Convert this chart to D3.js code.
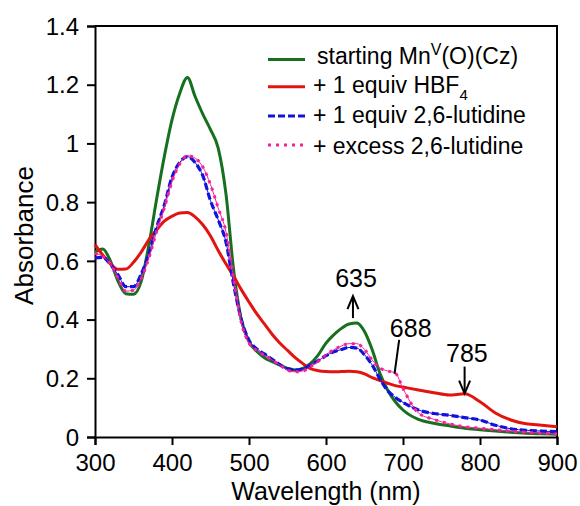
<!DOCTYPE html>
<html>
<head>
<meta charset="utf-8">
<script src="https://cdn.jsdelivr.net/npm/d3@7"></script>
<style>
  body { margin: 0; background: #fff; }
  text { font-family: "Liberation Sans", Arial, Helvetica, sans-serif; fill: #000; }
</style>
</head>
<body>
<div id="my_dataviz"></div>
<script>
// wavelength grid (nm) shared by all spectra
var wavelength = [300,310,320,330,340,350,360,370,380,390,400,410,420,430,440,450,460,470,480,490,
                  500,510,520,530,540,550,560,570,580,590,600,610,620,630,640,650,660,670,680,690,
                  700,720,740,760,780,800,820,840,860,880,900];

var starting = [0.630,0.640,0.600,0.530,0.488,0.486,0.530,0.655,0.810,0.955,1.080,1.170,1.225,1.160,1.100,1.047,0.984,0.830,0.570,0.400,
                0.325,0.292,0.270,0.257,0.245,0.234,0.228,0.234,0.251,0.280,0.320,0.348,0.370,0.385,0.388,0.359,0.297,0.217,0.160,0.120,
                0.092,0.060,0.047,0.038,0.030,0.025,0.020,0.016,0.013,0.011,0.009];

var hbf4 = [0.655,0.620,0.590,0.571,0.572,0.595,0.630,0.672,0.705,0.735,0.752,0.763,0.765,0.750,0.723,0.685,0.635,0.590,0.548,0.502,
            0.460,0.420,0.385,0.350,0.320,0.295,0.270,0.250,0.233,0.226,0.223,0.222,0.223,0.224,0.222,0.215,0.202,0.192,0.183,0.175,
            0.170,0.160,0.151,0.143,0.147,0.120,0.082,0.058,0.045,0.040,0.035];

var lutidine1 = [0.610,0.612,0.588,0.552,0.512,0.512,0.555,0.625,0.715,0.790,0.885,0.935,0.955,0.935,0.890,0.805,0.740,0.665,0.520,0.400,
                 0.330,0.300,0.283,0.265,0.247,0.232,0.228,0.232,0.245,0.260,0.277,0.290,0.298,0.305,0.303,0.280,0.245,0.198,0.158,0.135,
                 0.118,0.092,0.080,0.074,0.066,0.058,0.040,0.028,0.023,0.020,0.018];

var excess = [0.626,0.615,0.590,0.540,0.497,0.500,0.540,0.610,0.700,0.780,0.870,0.930,0.958,0.950,0.920,0.860,0.780,0.700,0.540,0.390,
              0.320,0.295,0.278,0.262,0.245,0.228,0.222,0.225,0.240,0.258,0.280,0.297,0.310,0.318,0.318,0.298,0.262,0.235,0.225,0.218,
              0.165,0.082,0.060,0.045,0.035,0.030,0.025,0.020,0.016,0.013,0.010];

var xTicks = [300,400,500,600,700,800,900];
var yTicks = [0,0.2,0.4,0.6,0.8,1,1.2,1.4];

var margin = {top: 26, right: 23, bottom: 69, left: 95},
    width = 580 - margin.left - margin.right,
    height = 506 - margin.top - margin.bottom;

var svg = d3.select("#my_dataviz")
  .append("svg")
    .attr("width", width + margin.left + margin.right)
    .attr("height", height + margin.top + margin.bottom)
  .append("g")
    .attr("transform", "translate(" + margin.left + "," + margin.top + ")");

var x = d3.scaleLinear().domain([300, 900]).range([0, width]);
var y = d3.scaleLinear().domain([0, 1.4]).range([height, 0]);

// frame (top and right)
svg.append("path")
  .attr("d", "M0,0H" + width + "V" + height)
  .attr("fill", "none")
  .attr("stroke", "#000")
  .attr("stroke-width", 2);

var xAxis = svg.append("g")
  .attr("transform", "translate(0," + height + ")")
  .call(d3.axisBottom(x).tickValues(xTicks).tickSize(8).tickPadding(9).tickFormat(d3.format("d")));
var yAxis = svg.append("g")
  .call(d3.axisLeft(y).tickValues(yTicks).tickSize(8).tickPadding(8).tickFormat(function(d) { return String(d); }));

[xAxis, yAxis].forEach(function(ax) {
  ax.select(".domain").attr("stroke-width", 2);
  ax.selectAll(".tick line").attr("stroke-width", 2);
  ax.selectAll("text").style("font-size", "24px").attr("fill", "#000");
});
yAxis.selectAll("text").attr("dy", "0.34em");

svg.append("text")
  .attr("x", width / 2)
  .attr("y", height + 63)
  .style("text-anchor", "middle")
  .style("font-size", "25px")
  .text("Wavelength (nm)");

svg.append("text")
  .attr("transform", "rotate(-90)")
  .attr("x", -(height / 2) - 4)
  .attr("y", -62)
  .style("text-anchor", "middle")
  .style("font-size", "26px")
  .text("Absorbance");

var series = [
  {name: "starting", values: starting, color: "#17701f", width: 3, dash: null, thin: false},
  {name: "hbf4", values: hbf4, color: "#e2140f", width: 3, dash: null, thin: false},
  {name: "lut1", values: lutidine1, color: "#1212dd", width: 3.2, dash: "7,3", thin: true},
  {name: "excess", values: excess, color: "#f52299", width: 3, dash: "3,5", thin: true}
];

var line = d3.line()
  .x(function(d) { return x(d[0]); })
  .y(function(d) { return y(d[1]); })
  .curve(d3.curveMonotoneX);

series.forEach(function(s) {
  var pts = wavelength.map(function(w, i) { return [w, s.values[i]]; });
  if (s.thin) {
    svg.append("path")
      .datum(pts)
      .attr("fill", "none")
      .attr("stroke", s.color)
      .attr("stroke-width", 1)
      .attr("d", line);
  }
  svg.append("path")
    .datum(pts)
    .attr("fill", "none")
    .attr("stroke", s.color)
    .attr("stroke-width", s.width)
    .attr("stroke-dasharray", s.dash)
    .attr("d", line);
});

// legend
var legend = svg.append("g").attr("transform", "translate(" + (-margin.left) + "," + (-margin.top) + ")");
var legendRows = [
  {lineY: 59.5, textY: 63.5},
  {lineY: 86.7, textY: 92.5},
  {lineY: 116, textY: 123.3},
  {lineY: 145, textY: 154}
];
legendRows.forEach(function(r, i) {
  legend.append("line")
    .attr("x1", 268).attr("x2", 305)
    .attr("y1", r.lineY).attr("y2", r.lineY)
    .attr("stroke", series[i].color)
    .attr("stroke-width", 3)
    .attr("stroke-dasharray", series[i].dash);
});

var t0 = legend.append("text").attr("x", 317).attr("y", legendRows[0].textY).style("font-size", "23px");
t0.append("tspan").text("starting Mn");
t0.append("tspan").attr("dy", -9).style("font-size", "16px").text("V");
t0.append("tspan").attr("dy", 9).text("(O)(Cz)");

var t1 = legend.append("text").attr("x", 313).attr("y", legendRows[1].textY).style("font-size", "23px");
t1.append("tspan").text("+ 1 equiv HBF");
t1.append("tspan").attr("dy", 7).style("font-size", "15px").text("4");

legend.append("text").attr("x", 313).attr("y", legendRows[2].textY).style("font-size", "23px")
  .text("+ 1 equiv 2,6-lutidine");
legend.append("text").attr("x", 313).attr("y", legendRows[3].textY).style("font-size", "23px")
  .text("+ excess 2,6-lutidine");

// peak annotations
var arrows = [
  {label: "635", nm: 635, tail: 0.405, tip: 0.48, textNm: 639, textA: 0.512},
  {label: "785", nm: 780, tail: 0.24, tip: 0.148, textNm: 783, textA: 0.257}
];
arrows.forEach(function(a) {
  var ax = x(a.nm), yTip = y(a.tip), yTail = y(a.tail);
  var dir = yTip < yTail ? 1 : -1;
  svg.append("line")
    .attr("x1", ax).attr("x2", ax)
    .attr("y1", yTail).attr("y2", yTip + dir)
    .attr("stroke", "#000").attr("stroke-width", 2);
  svg.append("path")
    .attr("d", "M" + (ax - 5.5) + "," + (yTip + dir * 13) + "L" + ax + "," + yTip + "L" + (ax + 5.5) + "," + (yTip + dir * 13))
    .attr("fill", "none").attr("stroke", "#000").attr("stroke-width", 2);
  svg.append("text")
    .attr("x", x(a.textNm)).attr("y", y(a.textA))
    .style("text-anchor", "middle").style("font-size", "25px")
    .text(a.label);
});

svg.append("line")
  .attr("x1", x(695)).attr("y1", y(0.331))
  .attr("x2", x(689)).attr("y2", y(0.215))
  .attr("stroke", "#000").attr("stroke-width", 2);
svg.append("text")
  .attr("x", x(710)).attr("y", y(0.34))
  .style("text-anchor", "middle").style("font-size", "25px")
  .text("688");
</script>
</body>
</html>
